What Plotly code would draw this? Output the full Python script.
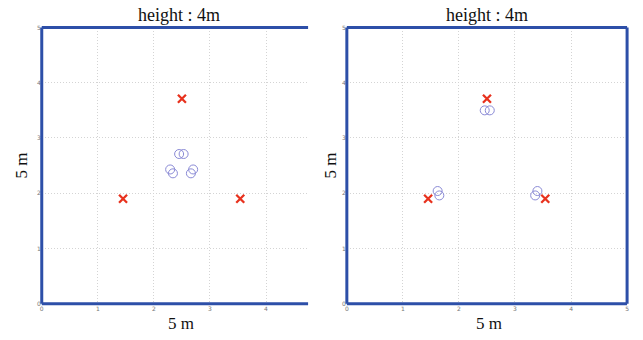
import plotly.graph_objects as go

# Data
cross_x = [1.45, 2.50, 3.54]
cross_y = [1.90, 3.71, 1.90]

left_circle_x = [2.45, 2.53, 2.29, 2.34, 2.70, 2.66]
left_circle_y = [2.71, 2.71, 2.43, 2.36, 2.43, 2.36]

right_circle_x = [2.46, 2.55, 1.62, 1.65, 3.40, 3.36]
right_circle_y = [3.50, 3.50, 2.04, 1.96, 2.04, 1.96]

left_xticks = [0, 1, 2, 3, 4]
right_xticks = [0, 1, 2, 3, 4, 5]
yticks = [0, 1, 2, 3, 4, 5]

title_text = "height : 4m"
axis_text = "5 m"

FW, FH = 643, 340
RED = "#e8321e"
BLUE_C = "#8a8ad6"
AXIS = "#2d4fa8"


def fx(px):
    return px / FW


def fy(py):
    return (FH - py) / FH


fig = go.Figure()

for xs, ys, xa, ya in [(left_circle_x, left_circle_y, "x", "y"),
                       (right_circle_x, right_circle_y, "x2", "y2")]:
    fig.add_trace(go.Scatter(x=xs, y=ys, mode="markers", xaxis=xa, yaxis=ya,
                             marker=dict(symbol="circle-open", size=9, color=BLUE_C,
                                         line=dict(width=1, color=BLUE_C)),
                             showlegend=False, hoverinfo="skip"))
    fig.add_trace(go.Scatter(x=cross_x, y=cross_y, mode="markers", xaxis=xa, yaxis=ya,
                             marker=dict(symbol="x-thin-open", size=8, color=RED,
                                         line=dict(width=2.3, color=RED)),
                             showlegend=False, hoverinfo="skip"))

tickfont = dict(family="DejaVu Sans", size=6, color="#777777")
common_ax = dict(showline=False, showgrid=True,
                 gridcolor="#d4d4d4", griddash="1px,2px", gridwidth=1, zeroline=False,
                 ticks="", tickfont=tickfont, fixedrange=True)

ydom = [fy(306), fy(24)]
lx = [fx(40), fx(308)]
rx = [fx(347), fx(629)]

fig.update_layout(
    width=FW, height=FH,
    margin=dict(l=0, r=0, t=0, b=0),
    paper_bgcolor="white", plot_bgcolor="white",
    xaxis=dict(domain=lx, range=[0, 4.75], tickvals=left_xticks, anchor="y", **common_ax),
    yaxis=dict(domain=ydom, range=[0, 5], tickvals=yticks, anchor="x", **common_ax),
    xaxis2=dict(domain=rx, range=[0, 5], tickvals=right_xticks, anchor="y2", **common_ax),
    yaxis2=dict(domain=ydom, range=[0, 5], tickvals=yticks, anchor="x2", **common_ax),
)

# frame lines (left panel has no right edge: view is cut off)
line = dict(color=AXIS, width=3)
shapes = []
for xr, yr, sides in [("x domain", "y domain", ["b", "t", "l"]),
                      ("x2 domain", "y2 domain", ["b", "t", "l", "r"])]:
    for s in sides:
        if s == "b":
            c = (0, 0, 1, 0)
        elif s == "t":
            c = (0, 1, 1, 1)
        elif s == "l":
            c = (0, 0, 0, 1)
        else:
            c = (1, 0, 1, 1)
        shapes.append(dict(type="line", xref=xr, yref=yr, x0=c[0], y0=c[1], x1=c[2], y1=c[3],
                           line=line, layer="above"))
fig.update_layout(shapes=shapes)

serif = "Liberation Serif"
ann = []
for cx, ylab_x in [(178, 20), (488, 331)]:
    ann.append(dict(text=title_text, x=fx(cx), y=fy(11), xref="paper", yref="paper",
                    showarrow=False, font=dict(family=serif, size=18, color="#111111"),
                    xanchor="center", yanchor="middle"))
    ann.append(dict(text=axis_text, x=fx(cx + 2), y=fy(326), xref="paper", yref="paper",
                    showarrow=False, font=dict(family=serif, size=17, color="#111111"),
                    xanchor="center", yanchor="middle"))
    ann.append(dict(text=axis_text, x=fx(ylab_x), y=fy(165), xref="paper", yref="paper",
                    showarrow=False, textangle=-90,
                    font=dict(family=serif, size=17, color="#111111"),
                    xanchor="center", yanchor="middle"))
fig.update_layout(annotations=ann)

fig.write_html(
    "out.html",
    config={"displayModeBar": False, "staticPlot": True},
    post_script="document.body.style.margin='0';document.body.style.overflow='hidden';",
)
